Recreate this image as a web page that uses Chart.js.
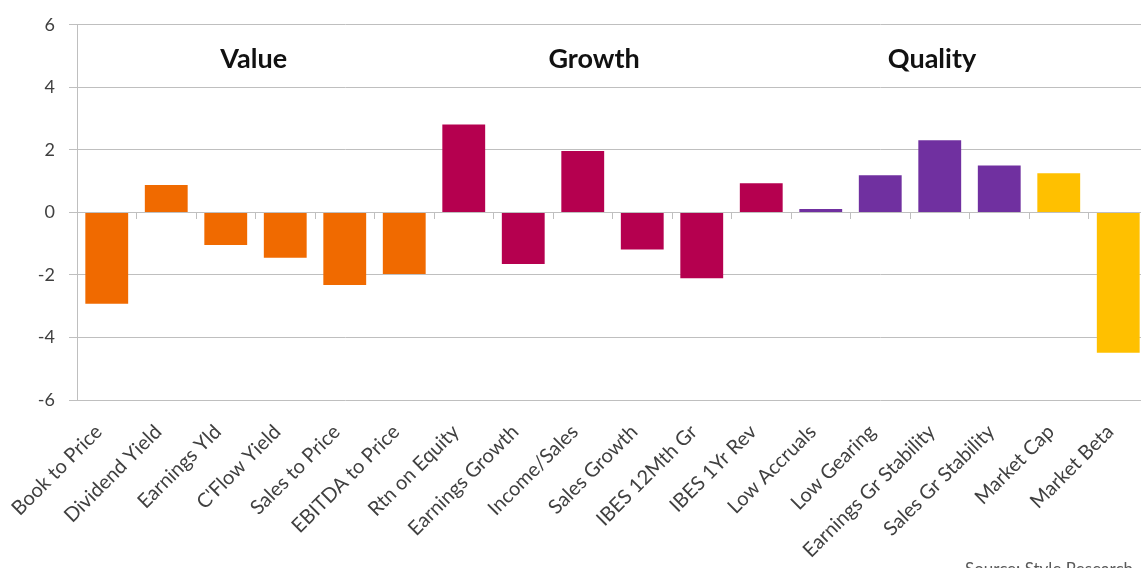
<!DOCTYPE html>
<html>
<head>
<meta charset="utf-8">
<script src="https://cdn.jsdelivr.net/npm/chart.js@4"></script>
<style>
    html, body { margin: 0; padding: 0; background: #fff; overflow: hidden; width: 1141px; height: 568px; }
    #wrap { position: relative; width: 1150px; height: 575px; }
    #source { position: absolute; left: 965px; top: 558px; font: 17px Lato, sans-serif; color: #595959; white-space: nowrap; }
</style>
</head>
<body>
<div id="wrap">
    <canvas id="styleChart" width="1150" height="575"></canvas>
    <div id="source">Source: Style Research</div>
</div>
<script>
// Категорії (стилі) та значення
const categories = [
    "Book to Price", "Dividend Yield", "Earnings Yld", "C'Flow Yield", "Sales to Price", "EBITDA to Price",
    "Rtn on Equity", "Earnings Growth", "Income/Sales", "Sales Growth", "IBES 12Mth Gr", "IBES 1Yr Rev",
    "Low Accruals", "Low Gearing", "Earnings Gr Stability", "Sales Gr Stability", "Market Cap", "Market Beta"
];
const values = [
    -2.92, 0.88, -1.04, -1.45, -2.32, -1.97,
    2.81, -1.65, 1.96, -1.19, -2.11, 0.93,
    0.11, 1.19, 2.31, 1.50, 1.25, -4.49
];
const groups = [
    "Value", "Value", "Value", "Value", "Value", "Value",
    "Growth", "Growth", "Growth", "Growth", "Growth", "Growth",
    "Quality", "Quality", "Quality", "Quality", "Risk", "Risk"
];
const yTicks = [-6, -4, -2, 0, 2, 4, 6];

// Заголовки груп: текст і позиція (індекс категорії, значення по осі Y)
const groupTitles = ["Value", "Growth", "Quality"];
const groupTitleAt = [2.47, 8.19, 13.87];
const groupTitleY = 4.9;

const groupColors = { Value: "#F06A00", Growth: "#B5004F", Quality: "#7030A0", Risk: "#FFC000" };
const gridColor = "#BFBFBF";
const textColor = "#404040";
const font = "Lato, 'Open Sans', sans-serif";

const groupTitlesPlugin = {
    id: "groupTitles",
    afterDatasetsDraw(chart) {
        const { ctx, scales } = chart;
        ctx.save();
        ctx.font = "bold 27px " + font;
        ctx.fillStyle = "#111";
        ctx.textAlign = "center";
        ctx.textBaseline = "middle";
        groupTitles.forEach((t, i) => {
            ctx.fillText(t, scales.x.getPixelForValue(groupTitleAt[i]), scales.y.getPixelForValue(groupTitleY));
        });
        ctx.restore();
    }
};

new Chart(document.getElementById("styleChart").getContext("2d"), {
    type: "bar",
    plugins: [groupTitlesPlugin],
    data: {
        labels: categories,
        datasets: [{
            data: values,
            backgroundColor: groups.map(g => groupColors[g]),
            barPercentage: 0.72,
            categoryPercentage: 1
        }]
    },
    options: {
        responsive: false,
        animation: false,
        devicePixelRatio: 1,
        layout: { padding: { top: 23, right: 2, left: 0, bottom: 0 } },
        plugins: { legend: { display: false }, tooltip: { enabled: false } },
        scales: {
            x: {
                position: "bottom",
                grid: { display: false },
                border: { display: false },
                ticks: {
                    color: textColor,
                    font: { family: font, size: 20 },
                    autoSkip: false,
                    maxRotation: 45,
                    minRotation: 45,
                    padding: 12,
                    labelOffset: -8
                },
                afterFit: s => { s.height = 175; }
            },
            // вісь на рівні нуля з рисками між категоріями
            xZero: {
                type: "category",
                position: { y: 0 },
                offset: true,
                grid: { offset: true, drawOnChartArea: false, drawTicks: true, tickLength: 6, color: gridColor },
                border: { display: true, color: gridColor, width: 1 },
                ticks: { display: false }
            },
            y: {
                min: -6,
                max: 6,
                afterBuildTicks: s => { s.ticks = yTicks.map(v => ({ value: v })); },
                grid: { color: gridColor, tickLength: 8 },
                border: { display: true, color: gridColor },
                ticks: {
                    color: textColor,
                    font: { family: font, size: 18 },
                    padding: 14
                },
                afterFit: s => { s.width = 77; }
            }
        }
    }
});
</script>
</body>
</html>
